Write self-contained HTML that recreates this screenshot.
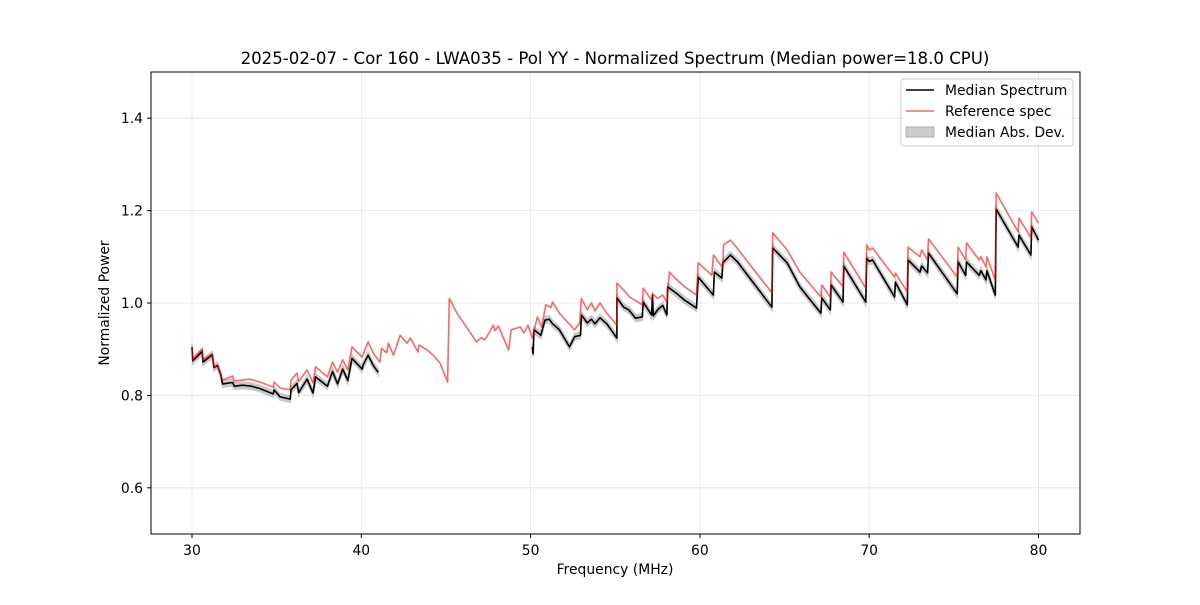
<!DOCTYPE html>
<html><head><meta charset="utf-8"><style>
body{margin:0;background:#fff;font-family:"Liberation Sans","DejaVu Sans",sans-serif}
svg text{font-family:"DejaVu Sans","Liberation Sans",sans-serif}
</style></head><body>
<svg id="chart" width="1200" height="600" xmlns="http://www.w3.org/2000/svg">
<rect width="1200" height="600" fill="#fff"/>
<text x="615" y="64" font-size="16.6" text-anchor="middle">2025-02-07 - Cor 160 - LWA035 - Pol YY - Normalized Spectrum (Median power=18.0 CPU)</text>
<g id="grid"></g><g id="series"></g>
<rect x="151" y="72" width="929" height="462" fill="none" stroke="#000" stroke-width="1"/>
<g id="ticks"></g>
<text x="615" y="574" font-size="13.9" text-anchor="middle">Frequency (MHz)</text>
<text transform="translate(109,303) rotate(-90)" font-size="13.9" text-anchor="middle">Normalized Power</text>
<g>
<rect x="901" y="79" width="172" height="67" rx="3" fill="#fff" fill-opacity="0.8" stroke="#ccc"/>
<line x1="906" y1="90" x2="934" y2="90" stroke="#000" stroke-width="1.5"/>
<text x="945" y="95" font-size="13.9">Median Spectrum</text>
<line x1="906" y1="111" x2="934" y2="111" stroke="#ff6666" stroke-width="1.5"/>
<text x="945" y="116" font-size="13.9">Reference spec</text>
<rect x="906" y="127" width="28" height="10" fill="#ccc" stroke="#aaa"/>
<text x="945" y="137" font-size="13.9">Median Abs. Dev.</text>
</g>
</svg>
<script>
const xTicks=[30,40,50,60,70,80];
const yTicks=[0.6,0.8,1.0,1.2,1.4];
const refF=[30.0,30.05,30.6,30.65,31.2,31.3,31.5,31.7,31.8,32.4,32.5,33.4,34.0,34.8,34.85,35.2,35.8,35.85,36.2,36.3,36.8,37.15,37.3,38.0,38.3,38.6,38.9,39.2,39.45,40.05,40.4,40.7,41.1,41.2,41.5,41.6,41.9,42.3,42.7,42.9,43.35,43.4,43.9,44.25,44.65,45.1,45.2,45.65,46.25,46.8,47.1,47.3,47.8,47.9,48.1,48.7,48.85,49.4,49.6,49.85,50.1,50.4,50.65,50.9,51.2,51.3,51.7,52.15,52.6,52.9,53.0,53.35,53.6,53.8,54.1,54.5,55.1,55.1,55.5,55.85,56.6,56.65,57.15,57.2,57.5,57.8,58.05,58.2,58.5,58.65,59.1,59.8,59.9,60.7,60.8,61.35,61.4,61.8,62.2,63.1,64.25,64.3,65.15,65.9,67.15,67.2,67.7,67.75,68.45,68.5,69.8,69.85,70.0,70.2,71.5,71.55,72.25,72.3,73.0,73.1,73.45,73.5,75.2,75.25,75.7,75.75,76.5,76.6,76.9,76.95,77.45,77.5,78.8,78.85,79.55,79.6,80.0];
const refV=[0.905,0.877,0.9,0.877,0.89,0.86,0.865,0.845,0.833,0.842,0.831,0.835,0.829,0.818,0.829,0.816,0.812,0.833,0.848,0.83,0.855,0.827,0.862,0.84,0.872,0.85,0.877,0.855,0.905,0.883,0.916,0.892,0.872,0.902,0.892,0.913,0.887,0.93,0.913,0.924,0.894,0.909,0.898,0.887,0.87,0.829,1.01,0.978,0.946,0.916,0.925,0.92,0.952,0.94,0.95,0.898,0.942,0.948,0.935,0.952,0.924,0.97,0.948,0.996,0.99,1.002,0.978,0.96,0.942,0.957,1.01,0.985,1.0,0.983,1.0,0.978,0.952,1.043,1.028,1.013,0.996,1.032,1.006,1.02,1.01,1.017,1.002,1.067,1.055,1.05,1.035,1.017,1.087,1.06,1.104,1.076,1.126,1.136,1.119,1.076,1.022,1.152,1.115,1.067,1.013,1.039,1.013,1.067,1.035,1.11,1.032,1.126,1.115,1.119,1.056,1.065,1.024,1.121,1.1,1.115,1.093,1.139,1.056,1.121,1.093,1.13,1.093,1.1,1.078,1.1,1.05,1.238,1.154,1.184,1.141,1.197,1.173];
const med1F=[30.0,30.05,30.6,30.65,31.2,31.3,31.5,31.7,31.8,32.4,32.5,33.0,33.5,34.0,34.8,34.85,35.2,35.8,35.85,36.2,36.3,36.8,37.15,37.3,38.0,38.3,38.6,38.9,39.2,39.45,40.05,40.1,40.4,40.7,41.0];
const med1V=[0.905,0.875,0.895,0.872,0.888,0.86,0.865,0.845,0.825,0.828,0.82,0.822,0.82,0.815,0.803,0.812,0.797,0.792,0.812,0.826,0.806,0.835,0.805,0.84,0.82,0.852,0.825,0.857,0.832,0.88,0.857,0.865,0.887,0.865,0.85];
const med2F=[50.1,50.15,50.2,50.6,50.85,51.1,51.3,51.7,52.3,52.6,52.95,53.0,53.35,53.6,53.8,54.1,54.5,55.1,55.1,55.5,55.8,56.2,56.6,56.65,57.15,57.2,57.25,57.5,57.8,58.05,58.1,58.5,58.65,59.1,59.8,59.9,60.8,60.85,61.3,61.35,61.8,62.2,64.25,64.3,65.15,65.9,67.15,67.2,67.7,67.75,68.45,68.5,69.8,69.85,70.0,70.2,71.5,71.55,72.25,72.3,73.0,73.1,73.45,73.5,75.2,75.25,75.7,75.75,76.5,76.6,76.9,76.95,77.45,77.5,78.8,78.85,79.55,79.6,80.0];
const med2V=[0.905,0.89,0.942,0.93,0.963,0.965,0.955,0.942,0.905,0.927,0.93,0.974,0.957,0.965,0.955,0.968,0.955,0.924,1.011,0.991,0.985,0.967,0.97,1.002,0.974,1.017,0.972,0.985,0.995,0.974,1.035,1.024,1.02,1.006,0.989,1.056,1.017,1.067,1.054,1.087,1.104,1.09,0.991,1.119,1.087,1.035,0.978,1.011,0.985,1.039,1.002,1.08,1.002,1.097,1.09,1.093,1.013,1.045,0.996,1.093,1.067,1.08,1.065,1.108,1.02,1.089,1.06,1.089,1.06,1.07,1.05,1.07,1.017,1.203,1.121,1.147,1.104,1.165,1.136];
const madHalf=[0.007];

const X=f=>192+(f-30)*16.93;
const Y=v=>303-(v-1.0)*462;
const NS="http://www.w3.org/2000/svg";
function mk(tag,attrs,parent){const e=document.createElementNS(NS,tag);for(const k in attrs)e.setAttribute(k,attrs[k]);parent.appendChild(e);return e;}
const grid=document.getElementById('grid'),ticks=document.getElementById('ticks'),ser=document.getElementById('series');
xTicks.forEach(t=>{
 const g=mk('line',{x1:X(t),x2:X(t),y1:72,y2:534,stroke:'#e4e4e4','stroke-width':0.8},grid);
 
 
 const m=mk('line',{x1:X(t),x2:X(t),y1:534,y2:538,stroke:'#000'},ticks);
 
 
 const tx=mk('text',{x:X(t),y:555,'font-size':13.9,'text-anchor':'middle'},ticks);tx.textContent=t;
 
 
});
yTicks.forEach(t=>{
 const g=mk('line',{x1:151,x2:1080,y1:Y(t),y2:Y(t),stroke:'#e4e4e4','stroke-width':0.8},grid);
 
 
 const m=mk('line',{x1:147,x2:151,y1:Y(t),y2:Y(t),stroke:'#000'},ticks);
 
 
 const tx=mk('text',{x:143,y:Y(t)+5,'font-size':13.9,'text-anchor':'end'},ticks);tx.textContent=t.toFixed(1);
 
 
});
function pts(F,V,off){return F.map((f,i)=>X(f).toFixed(1)+','+Y(V[i]+off).toFixed(1));}
[[med1F,med1V],[med2F,med2V]].forEach(([F,V])=>{
 const up=pts(F,V,madHalf[0]),dn=pts(F,V,-madHalf[0]).reverse();
 const b=mk('polygon',{points:up.concat(dn).join(' '),fill:'#c8c8c8',stroke:'#c8c8c8','stroke-width':1.5},ser);
 
 
});
[[med1F,med1V],[med2F,med2V]].forEach(([F,V])=>{
 const l=mk('polyline',{points:pts(F,V,0).join(' '),fill:'none',stroke:'#000','stroke-width':1.6,'stroke-linejoin':'round'},ser);
 
 
});
const r=mk('polyline',{points:pts(refF,refV,0).join(' '),fill:'none',stroke:'#ff0000','stroke-opacity':0.6,'stroke-width':1.6,'stroke-linejoin':'round'},ser);


</script>
</body></html>
